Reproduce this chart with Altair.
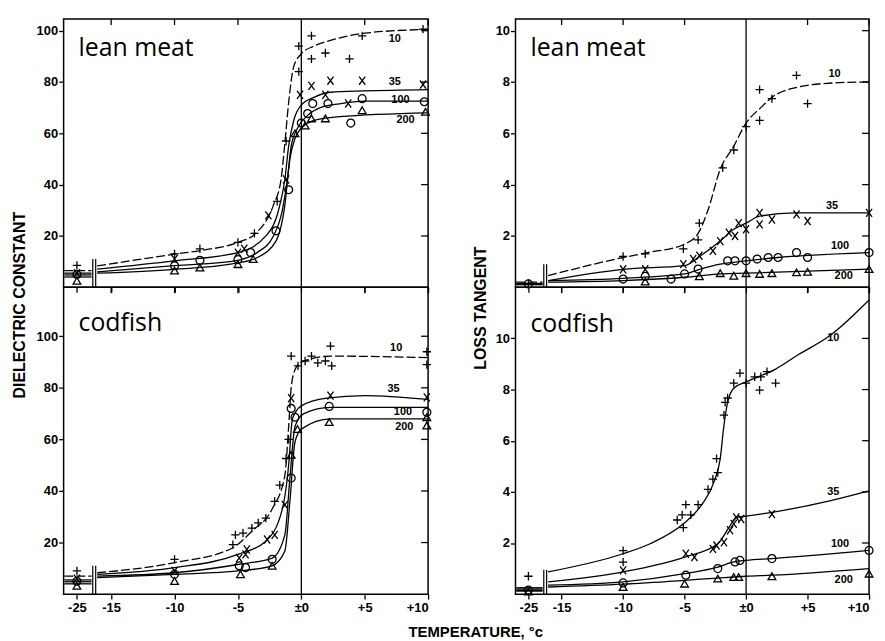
import altair as alt
import pandas as pd

SERIES = ["10", "35", "100", "200"]
X_TICKS = [-25, -15, -10, -5, 0, 5, 10]

# ---------- lean meat, dielectric constant ----------
# series -> (level on the -25 segment, temperatures, values)
LM_DC_CURVE = {
    "10": (6.5, [-16.1, -10, -8, -5, -3.6, -2.2, -1.6, -1.3, -1.0, -0.6, 0, 1, 2.5, 5, 10],
           [8.3, 12.9, 14.3, 17.5, 21, 32, 42, 56, 72, 86, 91, 94, 96.5, 99, 100.5]),
    "35": (5.5, [-16.1, -10, -5, -2.8, -1.8, -1.3, -1.0, -0.6, 0, 1, 2.3, 5, 10],
           [7.1, 10.3, 13.5, 20, 30, 42, 55, 65, 71, 74, 76, 76.5, 77]),
    "100": (4.8, [-16.1, -10, -5, -3.5, -2.2, -1.5, -1.1, -0.8, -0.3, 0.5, 1.5, 3, 5, 10],
            [6, 8.4, 10.5, 13.5, 20, 30, 42, 55, 62, 67, 70, 71.5, 72.5, 72.5]),
    "200": (4.0, [-16.1, -10, -5, -3.5, -2, -1.3, -0.9, -0.5, 0, 1, 3, 10],
            [5.5, 7, 9.5, 11.5, 18, 32, 50, 58, 62, 65, 66.5, 68]),
}
LM_DC_PTS = {
    "10": ([-25, -10, -8, -5, -3.7, -1.9, -1.2, -0.2, -0.2, 0.8, 0.8, 1.9, 3.8, 4.8, 9.6],
           [8.5, 13, 15, 17.5, 21, 33.5, 57, 84, 94, 98, 89, 91.3, 89, 98, 100.6]),
    "35": ([-25, -10, -5, -4.5, -2.6, -1.2, -0.1, 0.8, 1.9, 2.3, 3.7, 4.8, 9.6],
           [5.5, 11, 13.5, 15, 28, 42, 75, 78.5, 75, 80.5, 71.6, 80.5, 79]),
    "100": ([-25, -10, -8, -5, -4, -2, -1, 0, 0.5, 0.9, 2.1, 3.9, 4.8, 9.7],
            [5, 8.4, 10.5, 10.8, 13.5, 22, 38, 64, 67.7, 71.6, 71.6, 64, 73.5, 72.3]),
    "200": ([-25, -10, -8, -5, -3.8, -0.5, 0.3, 0.8, 1.9, 4.8, 9.8],
            [2.5, 6.5, 7.7, 9, 11, 60, 63, 65.8, 65.8, 69, 68.4]),
}
LM_DC_LABELS = {"10": (6.9, 96.7), "35": (6.9, 80), "100": (7.1, 73), "200": (7.5, 65)}

# ---------- lean meat, loss tangent ----------
LM_LT_CURVE = {
    "10": (0.2, [-16.1, -10, -8, -5, -3.9, -3.1, -2.1, -1.0, 0, 1.2, 2.1, 4.2, 7, 10],
           [0.45, 1.16, 1.35, 1.68, 2.1, 3.0, 4.6, 5.5, 6.4, 7.0, 7.4, 7.8, 7.96, 8.0]),
    "35": (0.15, [-16.1, -10, -5, -3.7, -2.1, -1, 0, 1.1, 4, 10],
           [0.26, 0.7, 0.84, 1.23, 1.8, 2.26, 2.5, 2.77, 2.9, 2.9]),
    "100": (0.12, [-16.1, -10, -5, -3.7, -2.1, 0, 2.6, 10],
            [0.26, 0.35, 0.52, 0.71, 0.9, 1.03, 1.16, 1.35]),
    "200": (0.1, [-16.1, -10, -5, -2.1, 0, 10],
            [0.2, 0.26, 0.39, 0.52, 0.55, 0.71]),
}
LM_LT_PTS = {
    "10": ([-25, -10, -8.2, -5.1, -3.9, -3.8, -1.9, -1, 0, 1.1, 1.1, 2.1, 4.1, 5],
           [0.15, 1.2, 1.3, 1.5, 1.85, 2.5, 4.65, 5.35, 6.26, 6.5, 7.7, 7.35, 8.26, 7.16]),
    "35": ([-10, -8.2, -5.1, -4.3, -3.8, -2.7, -2.1, -1.4, -0.9, -0.6, 0, 1.1, 1.1, 2.1, 4.1, 5, 10],
           [0.7, 0.7, 0.9, 1.1, 1.23, 1.42, 1.8, 2.13, 2.0, 2.5, 2.26, 2.9, 2.45, 2.64, 2.84, 2.58, 2.9]),
    "100": ([-25, -10, -8.2, -6.1, -5, -3.9, -1.5, -0.9, 0, 0.9, 1.8, 2.6, 4.1, 5, 10],
            [0.13, 0.32, 0.43, 0.32, 0.52, 0.71, 1.03, 1.03, 1.03, 1.1, 1.16, 1.16, 1.35, 1.16, 1.35]),
    "200": ([-8.2, -3.8, -2.1, -1, 0, 1.1, 2.1, 4.1, 5, 10],
            [0.22, 0.43, 0.55, 0.45, 0.55, 0.52, 0.55, 0.58, 0.6, 0.71]),
}
LM_LT_LABELS = {"10": (6.7, 8.3), "35": (6.5, 3.15), "100": (6.9, 1.6), "200": (7.2, 0.43)}

# ---------- codfish, dielectric constant ----------
CF_DC_CURVE = {
    "10": (7.0, [-16.1, -10, -5.4, -3.9, -2.3, -1.3, -1.0, -0.8, -0.5, 0, 2.3, 10],
           [8.3, 12.2, 18, 24.4, 33, 46, 65, 80, 87, 90, 92.3, 91.7]),
    "35": (5.5, [-16.1, -10, -5, -2.8, -1.5, -1.0, -0.7, 0, 2, 5, 10],
           [7.7, 10.3, 15.4, 20.5, 33, 50, 68, 73, 76, 77, 75.5]),
    "100": (4.8, [-16.1, -10, -5, -2.3, -1.3, -0.9, -0.5, 0.2, 2.3, 10],
            [7, 8.3, 11.5, 14, 23, 45, 65, 70, 72.4, 72.4]),
    "200": (4.0, [-16.1, -10, -5, -2.3, -1.3, -0.9, -0.5, 0, 2.3, 10],
            [6.4, 7.7, 9, 11, 16.7, 36, 59, 64, 68, 68]),
}
CF_DC_PTS = {
    "10": ([-25, -10, -5.4, -5.2, -4.6, -3.9, -3.4, -2.8, -2.1, -1.7, -1.2, -1.0, -0.8, -0.26, 0.3, 0.8, 1.3, 1.9, 2.3, 2.4, 9.9, 9.9],
           [9, 13.5, 19.2, 23, 23.7, 25.6, 27.6, 29.5, 36, 42.3, 52.6, 60, 92.3, 88.5, 90.4, 92.3, 89.7, 90.4, 96.2, 88.5, 94, 89]),
    "35": ([-25, -10, -4.9, -4.4, -4.3, -2.7, -2.1, -1.3, -0.8, 2.3, 9.9],
           [6, 9, 14, 15.4, 17.3, 21.2, 23, 34.6, 76, 77, 76.3]),
    "100": ([-25, -10, -4.9, -4.4, -2.3, -0.8, -0.8, -0.5, 2.2, 9.9],
            [5, 7.7, 11, 10.3, 13.5, 45, 72, 68.6, 72.8, 70.5]),
    "200": ([-25, -10, -4.8, -2.3, -0.8, -0.3, 2.2, 9.9, 9.9],
            [3.2, 5.1, 7.7, 11, 54, 64, 66.7, 65.4, 68.6]),
}
CF_DC_LABELS = {"10": (7, 95.4), "35": (6.8, 79.7), "100": (7.3, 70.5), "200": (7.4, 64.7)}

# ---------- codfish, loss tangent ----------
CF_LT_CURVE = {
    "10": (0.25, [-16.1, -10, -7.8, -5.1, -3.6, -2.6, -2.1, -1.8, -1.5, -1, 0, 2.4, 4.2, 6.8, 10],
           [0.87, 1.58, 1.97, 2.75, 3.5, 4.4, 5.3, 6.6, 7.5, 8.05, 8.3, 8.8, 9.35, 10.1, 11.5]),
    "35": (0.2, [-16.1, -10, -5, -2.3, -1.4, -0.8, 0, 2.1, 6.8, 10],
           [0.48, 0.87, 1.45, 1.97, 2.6, 3.0, 3.05, 3.2, 3.65, 4.04]),
    "100": (0.15, [-16.1, -10, -5, -2.3, -1, 0, 2.1, 10],
            [0.35, 0.48, 0.8, 1.06, 1.26, 1.32, 1.39, 1.71]),
    "200": (0.12, [-16.1, -10, -5, -2.3, 0, 2.1, 10],
            [0.28, 0.39, 0.54, 0.63, 0.7, 0.74, 1.0]),
}
CF_LT_PTS = {
    "10": ([-25, -10, -10, -5.6, -5.2, -5.1, -4.9, -4.5, -3.9, -3.1, -2.7, -2.3, -2.4, -1.8, -1.7, -1.5, -1.0, -0.5, 0, 0.7, 1.1, 1.2, 1.7, 2.4],
           [0.7, 1.7, 1.25, 2.9, 3.1, 2.6, 3.5, 3.1, 3.5, 4.1, 4.5, 4.75, 5.3, 7.0, 7.5, 7.67, 8.25, 8.64, 8.25, 8.5, 7.98, 8.5, 8.7, 8.25]),
    "35": ([-10, -4.9, -4.2, -2.7, -2.4, -1.8, -1.3, -1.0, -0.8, -0.4, 2.1],
           [0.93, 1.58, 1.45, 1.77, 1.9, 2.03, 2.5, 2.75, 3.0, 2.94, 3.13]),
    "100": ([-25, -10, -4.9, -2.3, -0.9, -0.5, 2.1, 10],
            [0.16, 0.44, 0.74, 1.0, 1.26, 1.32, 1.39, 1.71]),
    "200": ([-25, -10, -5, -2.3, -1, -0.6, 2.1, 10],
            [0.1, 0.28, 0.41, 0.61, 0.67, 0.67, 0.7, 0.8]),
}
CF_LT_LABELS = {"10": (6.6, 10), "35": (6.6, 3.98), "100": (6.9, 1.97), "200": (7.2, 0.54)}


# broken axis: the -25 column is squeezed left of the break
def xmap(t):
    return t if t > -20 else -17.7 + (t + 25) * 0.33


XDOM = [-18.75, 10]
TICK_POS = [xmap(t) for t in X_TICKS]
LABEL_EXPR = ("datum.value < -16 ? '-25' : datum.value == 0 ? '±0' : "
              "datum.value > 0 ? '+' + datum.value : '' + datum.value")
FONT = "Liberation Sans"
SHAPES = ["M-1,0L1,0M0,-1L0,1", "M-0.75,-1L0.75,1M-0.75,1L0.75,-1", "circle", "triangle-up"]


def panel(curves, pts, labels, ydom, yvals, width, height, show_x, name, name_y,
          brk_top, dashed, extra=None):
    crow = []
    for s in SERIES:
        lvl, ts, vs = curves[s]
        for t in (-28, -21.5):
            crow.append({"series": s, "key": s + "a", "xp": xmap(t), "v": lvl})
        for t, v in zip(ts, vs):
            crow.append({"series": s, "key": s + "b", "xp": xmap(t), "v": v})
    cdf = pd.DataFrame(crow)
    prow = []
    for s in SERIES:
        ts, vs = pts[s]
        for t, v in zip(ts, vs):
            prow.append({"series": s, "xp": xmap(t), "v": v})
    pdf = pd.DataFrame(prow)
    ldf = pd.DataFrame([{"series": s, "xp": labels[s][0], "v": labels[s][1]} for s in SERIES])

    if show_x:
        xaxis = alt.Axis(values=TICK_POS, labelExpr=LABEL_EXPR, title=None, grid=False,
                         domain=False, tickSize=5, labelPadding=2, labelFont=FONT,
                         labelFontSize=13, labelFontWeight="bold", labelColor="black",
                         tickColor="black", tickWidth=1.3)
    else:
        xaxis = alt.Axis(values=TICK_POS, labels=False, title=None, grid=False,
                         domain=False, tickSize=5, tickColor="black", tickWidth=1.3)
    yaxis = alt.Axis(values=yvals, title=None, grid=False, domain=False, tickSize=5,
                     labelPadding=1, labelFont=FONT, labelFontSize=13,
                     labelFontWeight="bold", labelColor="black", tickColor="black",
                     tickWidth=1.3)
    X = alt.X("xp:Q", scale=alt.Scale(domain=XDOM, nice=False, zero=False), axis=xaxis)
    Y = alt.Y("v:Q", scale=alt.Scale(domain=ydom, nice=False, zero=False), axis=yaxis)

    dashed_df = cdf[cdf["series"].isin(dashed)]
    solid_df = cdf[~cdf["series"].isin(dashed)]
    layers = []
    zero = alt.Chart(pd.DataFrame({"xp": [0]})).mark_rule(
        color="black", strokeWidth=1.3).encode(x=X)
    brk = alt.Chart(pd.DataFrame({"xp": [-16.45, -16.22], "v": [0, 0],
                                  "v2": [brk_top, brk_top]})).mark_rule(
        color="black", strokeWidth=1.2).encode(x=X, y=Y, y2="v2:Q")
    # inward ticks on the top and right frame
    top_ticks = alt.Chart(pd.DataFrame({"xp": [p for p in TICK_POS if p > -16 and p != 0]})
                          ).mark_rule(color="black", strokeWidth=1.3).encode(
        x=X, y=alt.value(0), y2=alt.value(6))
    right_ticks = alt.Chart(pd.DataFrame({"v": yvals})).mark_rule(
        color="black", strokeWidth=1.3).encode(
        y=Y, x=alt.value(width - 7), x2=alt.value(width))
    layers += [zero, brk, top_ticks, right_ticks]
    layers.append(alt.Chart(solid_df).mark_line(
        interpolate="monotone", color="black", strokeWidth=1.3).encode(
        x=X, y=Y, detail="key:N"))
    if len(dashed_df):
        layers.append(alt.Chart(dashed_df).mark_line(
            interpolate="monotone", color="black", strokeWidth=1.3,
            strokeDash=[9, 3]).encode(x=X, y=Y, detail="key:N"))
    points = alt.Chart(pdf).mark_point(filled=False, color="black", strokeWidth=1.3,
                                       opacity=1).encode(
        x=X, y=Y,
        shape=alt.Shape("series:N", legend=None,
                        scale=alt.Scale(domain=SERIES, range=SHAPES)),
        size=alt.Size("series:N", legend=None,
                      scale=alt.Scale(domain=SERIES, range=[70, 60, 45, 45])))
    lab = alt.Chart(ldf).mark_text(align="left", baseline="middle", font=FONT,
                                   fontSize=11, fontWeight="bold", color="black").encode(
        x=X, y=Y, text="series:N")
    one = pd.DataFrame({"a": [0]})
    ttl = alt.Chart(one).mark_text(align="left", baseline="alphabetic", font="Open Sans",
                                   fontSize=25, color="black").encode(
        x=alt.value(15), y=alt.value(name_y), text=alt.value(name))
    layers += [points, lab, ttl]
    if extra is not None:
        layers += extra
    return alt.layer(*layers).properties(width=width, height=height)


one = pd.DataFrame({"a": [0]})
ytitle_l = alt.Chart(one).mark_text(angle=270, font=FONT, fontSize=16, fontWeight="bold",
                                    color="black").encode(
    x=alt.value(-44), y=alt.value(288), text=alt.value("DIELECTRIC   CONSTANT"))
ytitle_r = alt.Chart(one).mark_text(angle=270, font=FONT, fontSize=16, fontWeight="bold",
                                    color="black").encode(
    x=alt.value(-35), y=alt.value(291), text=alt.value("LOSS   TANGENT"))
xtitle = alt.Chart(one).mark_text(font=FONT, fontSize=15, fontWeight="bold",
                                  color="black").encode(
    x=alt.value(415), y=alt.value(347), text=alt.value("TEMPERATURE, °c"))

tl = panel(LM_DC_CURVE, LM_DC_PTS, LM_DC_LABELS, [0, 104.5], [20, 40, 60, 80, 100],
           367, 270, False, "lean meat", 37, 11, ["10"], [ytitle_l])
tr = panel(LM_LT_CURVE, LM_LT_PTS, LM_LT_LABELS, [0, 10.45], [2, 4, 6, 8, 10],
           356, 270, False, "lean meat", 37, 0.9, ["10"], [ytitle_r])
bl = panel(CF_DC_CURVE, CF_DC_PTS, CF_DC_LABELS, [0, 119], [20, 40, 60, 80, 100],
           367, 309, True, "codfish", 44, 11, ["10"], [xtitle])
br = panel(CF_LT_CURVE, CF_LT_PTS, CF_LT_LABELS, [0, 12], [2, 4, 6, 8, 10],
           356, 309, True, "codfish", 45, 0.95, [])

chart = alt.ConcatChart(
    concat=[tl, tr, bl, br], columns=2, spacing={"row": 0, "column": 88}, bounds="flush"
).properties(
    padding={"left": 3, "top": 7, "right": 0, "bottom": 0}, background="white"
).configure_view(stroke="black", strokeWidth=1.5)

chart.save("out.html", embed_options={"renderer": "svg", "actions": False})
